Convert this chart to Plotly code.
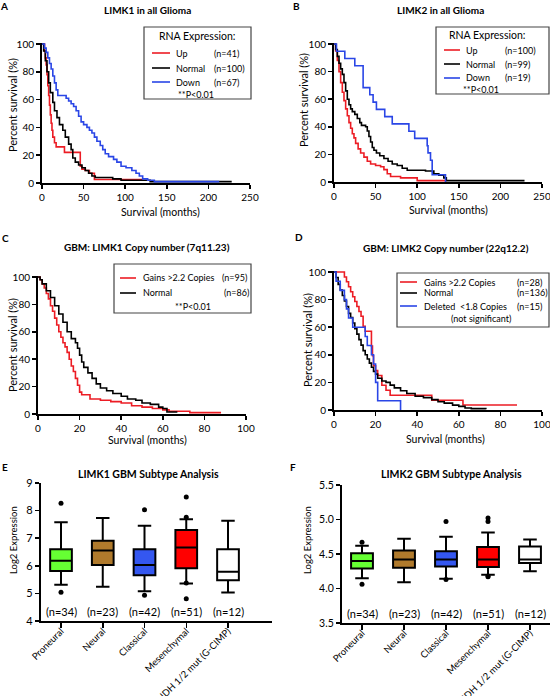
import plotly.graph_objects as go

W, H = 550, 696
FONT = "Lato"
RED = "#ec1c24"
BLUE = "#2a46e6"
BLACK = "#000000"

# ---------------- Panel A: LIMK1 in all Glioma ----------------
a_up_t = [0, 3, 4, 5, 6, 7, 8, 9, 10, 11, 12, 13, 15, 17, 27, 46, 48, 52, 57, 63, 120]
a_up_s = [100, 95, 90, 85, 78, 70, 63, 56, 49, 43, 38, 33, 29, 26, 22, 12, 10, 9, 7, 2.5, 1.5]
a_norm_t = [0, 2, 4, 6, 8, 10, 13, 15, 18, 21, 25, 28, 32, 35, 37, 40, 44, 48, 52, 56, 60, 64, 85, 95, 130, 228]
a_norm_s = [100, 95, 88, 80, 72, 65, 58, 52, 47, 42, 38, 33, 28, 24, 18, 15, 13, 11, 9, 7, 5, 4, 3, 2, 1, 1]
a_down_t = [0, 3, 5, 7, 9, 11, 13, 15, 17, 19, 29, 32, 35, 38, 41, 44, 47, 50, 54, 57, 60, 63, 66, 70, 73, 76, 80,
            86, 90, 95, 101, 108, 113, 117, 121, 127, 135, 213]
a_down_s = [100, 97, 94, 90, 86, 82, 77, 72, 67, 63, 61, 59, 57, 55, 52, 48, 44, 42, 40, 38, 36, 33, 30, 27, 24, 21,
            19, 17, 15, 12, 11, 9, 7, 5, 3, 2, 1, 1]

# ---------------- Panel B: LIMK2 in all Glioma ----------------
b_up_t = [0, 2, 4, 6, 8, 10, 12, 14, 16, 18, 20, 22, 24, 26, 29, 32, 36, 40, 44, 50, 56, 60, 64, 68, 80, 100, 135]
b_up_s = [100, 95, 88, 80, 72, 65, 59, 53, 48, 43, 39, 35, 32, 28, 24, 21, 18, 15, 13, 12, 11, 9, 6, 4, 3, 1, 1]
b_norm_t = [0, 2, 4, 6, 8, 10, 12, 14, 16, 18, 20, 22, 25, 28, 31, 33, 38, 40, 42, 44, 46, 48, 51, 55, 60, 65, 70, 76,
            82, 88, 110, 120, 126, 132, 135, 229]
b_norm_s = [100, 96, 91, 86, 82, 78, 72, 66, 60, 56, 53, 51, 49, 46, 43, 41, 40, 37, 33, 29, 25, 23, 21, 19, 17, 15, 13,
            12, 10, 8.5, 8, 6, 5, 3, 1, 1]
b_down_t = [0, 3, 13, 25, 35, 43, 47, 51, 61, 70, 90, 97, 112, 113, 116, 118, 134]
b_down_s = [100, 94.7, 89.5, 84.2, 68.4, 63.2, 57.9, 52.6, 47.4, 42.1, 36.8, 31.6, 26.3, 21.1, 15.8, 5.3, 0]

# ---------------- Panel C: GBM LIMK1 copy number ----------------
c_gain_t = [0, 1, 2, 3, 4, 5, 6, 7, 8, 9, 10, 11, 12, 13, 14, 15, 16, 17, 18, 19, 20, 21, 25, 30, 35, 40, 45, 50,
            55, 60, 63, 73, 88]
c_gain_s = [100, 98, 95, 92, 88, 84, 79, 75, 70, 65, 60, 56, 52, 49, 45, 40, 35, 31, 26, 21, 16, 14, 11, 10, 9, 8, 6,
            5, 4, 3, 2, 1, 1]
c_norm_t = [0, 1, 2, 4, 6, 8, 10, 12, 14, 16, 18, 19, 20, 21, 22, 24, 26, 28, 30, 33, 36, 40, 43, 47, 50, 54, 58, 60,
            62, 67]
c_norm_s = [100, 98, 95, 90, 85, 79, 73, 67, 60, 55, 52, 48, 43, 38, 34, 30, 26, 22, 19, 17, 15, 13, 11, 10, 8, 7, 5,
            4, 1.5, 1.5]

# ---------------- Panel D: GBM LIMK2 copy number ----------------
d_gain_t = [0, 5, 6, 7, 8, 9, 10, 11, 12, 13, 14, 15, 18, 18.5, 19, 20, 21, 23, 25, 27, 47, 62, 88]
d_gain_s = [100, 96.4, 92.9, 89.3, 85.7, 82.1, 78.6, 75, 71.4, 67.9, 60.7, 57.1, 46.4, 39.3, 32.1, 28.6, 25, 17.9,
            14.3, 10.7, 7.1, 3.6, 3.6]
d_norm_t = [0, 1, 2, 3, 4, 5, 6, 7, 8, 9, 10, 11, 12, 13, 14, 15, 16, 17, 18, 19, 20, 21, 23, 25, 27, 29, 32, 35, 39,
            43, 47, 50, 53, 57, 60, 63, 66, 73]
d_norm_s = [100, 96, 91, 87, 83, 79, 75, 70, 67, 63, 59, 55, 51, 47, 43, 40, 37, 34, 31, 28, 26, 23, 21, 20, 18, 16,
            14, 12, 10, 9, 7.5, 6, 5, 3.5, 2.6, 1.5, 1, 0.5]
d_del_t = [0, 1, 3, 5, 6, 7, 9, 15, 16, 18, 19, 20, 21, 32]
d_del_s = [100, 93.3, 86.7, 80, 73.3, 66.7, 60, 53.3, 46.7, 40, 33.3, 20, 6.7, 0]

# ---------------- Panels E/F: GBM subtype box plots ----------------
subtypes = ["Proneural", "Neural", "Classical", "Mesenchymal", "IDH 1/2 mut (G-CIMP)"]
subtype_n = [34, 23, 42, 51, 12]
box_colors = ["#66ff33", "#b07a2c", "#3457f0", "#ff0000", "#ffffff"]

e_lo = [5.31, 5.24, 5.08, 5.36, 5.03]
e_q1 = [5.81, 6.03, 5.66, 5.91, 5.48]
e_med = [6.18, 6.55, 6.03, 6.66, 5.78]
e_q3 = [6.60, 6.91, 6.60, 7.30, 6.60]
e_hi = [7.58, 7.73, 7.45, 7.69, 7.63]
e_out = [[8.27, 5.04], [], [8.03, 4.93], [8.49, 7.76, 5.38, 4.81], []]

f_lo = [4.15, 4.09, 4.14, 4.20, 4.25]
f_q1 = [4.29, 4.30, 4.32, 4.31, 4.37]
f_med = [4.40, 4.42, 4.42, 4.42, 4.42]
f_q3 = [4.51, 4.55, 4.54, 4.60, 4.61]
f_hi = [4.62, 4.72, 4.75, 4.81, 4.71]
f_out = [[4.67, 4.06], [], [4.97, 4.13], [5.02, 4.97, 4.17, 4.18], []]

km_xticks_ab = [0, 50, 100, 150, 200, 250]
km_xticks_cd = [0, 20, 40, 60, 80, 100]
km_yticks = [0, 20, 40, 60, 80, 100]
e_yticks = [4, 5, 6, 7, 8, 9]
f_yticks = [3.5, 4.0, 4.5, 5.0, 5.5]


# ---------------- helpers ----------------
def clamp(v):
    return min(1.0, max(0.0, v))


def xdom(p0, p1, v0, v1, r0, r1):
    k = (p1 - p0) / (v1 - v0)
    return [clamp((p0 + (r0 - v0) * k) / W), clamp((p0 + (r1 - v0) * k) / W)]


def ydom(p0, p1, v0, v1, r0, r1):
    b0, b1 = H - p0, H - p1
    k = (b1 - b0) / (v1 - v0)
    return [clamp((b0 + (r0 - v0) * k) / H), clamp((b0 + (r1 - v0) * k) / H)]


def axis(domain, rng, tickvals, anchor, size=10, ticktext=None, angle=None, fmt=None, ticklen=4, standoff=None):
    d = dict(domain=domain, range=rng, tickvals=tickvals, anchor=anchor, automargin=False,
             ticklabeloverflow="allow",
             showline=True, linecolor="black", linewidth=2, ticks="outside", ticklen=ticklen,
             tickwidth=1.5, tickcolor="black", showgrid=False, zeroline=False,
             tickfont=dict(family=FONT, size=size, color="black"), fixedrange=True)
    if ticktext is not None:
        d["ticktext"] = ticktext
    if angle is not None:
        d["tickangle"] = angle
    if fmt is not None:
        d["tickformat"] = fmt
    if standoff is not None:
        d["ticklabelstandoff"] = standoff
    return d


fig = go.Figure()


def km(t, s, color, n):
    fig.add_trace(go.Scatter(x=t, y=s, mode="lines", line=dict(shape="hv", color=color, width=1.6),
                             xaxis="x" + n, yaxis="y" + n, showlegend=False, hoverinfo="skip"))


km(a_up_t, a_up_s, RED, "")
km(a_norm_t, a_norm_s, BLACK, "")
km(a_down_t, a_down_s, BLUE, "")
km(b_up_t, b_up_s, RED, "2")
km(b_norm_t, b_norm_s, BLACK, "2")
km(b_down_t, b_down_s, BLUE, "2")
km(c_gain_t, c_gain_s, RED, "3")
km(c_norm_t, c_norm_s, BLACK, "3")
km(d_gain_t, d_gain_s, RED, "4")
km(d_norm_t, d_norm_s, BLACK, "4")
km(d_del_t, d_del_s, BLUE, "4")


def boxes(lo, q1, med, q3, hi, outs, n):
    for i in range(len(subtypes)):
        fig.add_trace(go.Box(x=[i], lowerfence=[lo[i]], q1=[q1[i]], median=[med[i]], q3=[q3[i]],
                             upperfence=[hi[i]], fillcolor=box_colors[i],
                             line=dict(color="black", width=2), width=0.52, whiskerwidth=0.62,
                             xaxis="x" + n, yaxis="y" + n, showlegend=False, hoverinfo="skip"))
        if outs[i]:
            fig.add_trace(go.Scatter(x=[i] * len(outs[i]), y=outs[i], mode="markers",
                                     marker=dict(color="black", size=5), xaxis="x" + n, yaxis="y" + n,
                                     showlegend=False, hoverinfo="skip"))


boxes(e_lo, e_q1, e_med, e_q3, e_hi, e_out, "5")
boxes(f_lo, f_q1, f_med, f_q3, f_hi, f_out, "6")

layout = dict(
    width=W, height=H, margin=dict(l=0, r=0, t=0, b=0, pad=0), autosize=False,
    paper_bgcolor="white", plot_bgcolor="white", showlegend=False,
    font=dict(family=FONT, color="black"),
    xaxis=axis(xdom(42, 250, 0, 250, 0, 250), [0, 250], km_xticks_ab, "y"),
    yaxis=axis(ydom(183, 44, 0, 100, 0, 101), [0, 101], km_yticks, "x"),
    xaxis2=axis(xdom(334, 542, 0, 250, 0, 250), [0, 250], km_xticks_ab, "y2"),
    yaxis2=axis(ydom(182, 44, 0, 100, 0, 101), [0, 101], km_yticks, "x2"),
    xaxis3=axis(xdom(38, 246, 0, 100, 0, 100), [0, 100], km_xticks_cd, "y3"),
    yaxis3=axis(ydom(414, 277, 0, 100, 0, 101), [0, 101], km_yticks, "x3"),
    xaxis4=axis(xdom(334, 542, 0, 100, 0, 100), [0, 100], km_xticks_cd, "y4"),
    yaxis4=axis(ydom(410, 272, 0, 100, 0, 101), [0, 101], km_yticks, "x4"),
    xaxis5=axis(xdom(61, 228, 0, 4, -0.48, 5.05), [-0.48, 5.05], list(range(5)), "y5",
                size=9.5, ticktext=subtypes, angle=-45, ticklen=5, standoff=-6),
    yaxis5=axis(ydom(621, 483, 4, 9, 4, 9), [4, 9], e_yticks, "x5", size=11),
    xaxis6=axis(xdom(362, 530, 0, 4, -0.48, 4.47), [-0.48, 4.47], list(range(5)), "y6",
                size=9.5, ticktext=subtypes, angle=-45, ticklen=5, standoff=-6),
    yaxis6=axis(ydom(623, 485, 3.5, 5.5, 3.5, 5.5), [3.5, 5.5], f_yticks, "x6", size=10.5, fmt=".1f"),
)

ann = []
shapes = []


def txt(x, y, s, size, bold=False, xanchor="center", angle=0, color="black"):
    if bold:
        s = "<b>" + s + "</b>"
    ann.append(dict(x=x / W, y=1 - y / H, xref="paper", yref="paper", text=s, showarrow=False,
                    xanchor=xanchor, yanchor="middle", textangle=angle,
                    font=dict(family=FONT, size=size, color=color)))


def rect(x0, y0, x1, y1):
    shapes.append(dict(type="rect", xref="paper", yref="paper", x0=x0 / W, x1=x1 / W,
                       y0=1 - y0 / H, y1=1 - y1 / H, line=dict(color="#444444", width=1.2)))


def seg(x0, x1, y, color):
    shapes.append(dict(type="line", xref="paper", yref="paper", x0=x0 / W, x1=x1 / W,
                       y0=1 - y / H, y1=1 - y / H, line=dict(color=color, width=1.6)))


# panel letters
for lab, x, y in [("A", 4, 6), ("B", 296, 6), ("C", 5, 238), ("D", 299, 237), ("E", 5, 467), ("F", 293, 467)]:
    txt(x, y, lab, 10, bold=True)

# titles
txt(147, 10, "LIMK1 in all Glioma", 10, bold=True)
txt(440, 10, "LIMK2 in all Glioma", 10, bold=True)
txt(147, 247, "GBM: LIMK1 Copy number (7q11.23)", 10, bold=True)
txt(446, 248, "GBM: LIMK2 Copy number (22q12.2)", 10, bold=True)
txt(148, 474, "LIMK1 GBM Subtype Analysis", 10.5, bold=True)
txt(451, 474, "LIMK2 GBM Subtype Analysis", 10.5, bold=True)

# axis titles
txt(160, 212, "Survival (months)", 10.5)
txt(448, 210, "Survival (months)", 10.5)
txt(147, 440, "Survival (months)", 10.5)
txt(445, 439, "Survival (months)", 10.5)
txt(12, 105, "Percent survival (%)", 11, angle=-90)
txt(303, 100, "Percent survival (%)", 11, angle=-90)
txt(12, 345, "Percent survival (%)", 11, angle=-90)
txt(307, 340, "Percent survival (%)", 11, angle=-90)
txt(13, 540, "Log2 Expression", 9.5, angle=-90)
txt(307, 540, "Log2 Expression", 9.5, angle=-90)

# legend A
rect(144, 27, 251, 99)
txt(197, 36, "RNA Expression:", 10.5)
for (lab, n, col, y) in [("Up", "(n=41)", RED, 53), ("Normal", "(n=100)", BLACK, 68), ("Down", "(n=67)", BLUE, 82)]:
    seg(152, 170, y, col)
    txt(174, y, lab, 9, xanchor="left")
    txt(212, y, n, 9, xanchor="left")
txt(196, 94, "**P<0.01", 9)

# legend B
rect(436, 27, 549, 94)
txt(487, 35, "RNA Expression:", 10.5)
for (lab, n, col, y) in [("Up", "(n=100)", RED, 50), ("Normal", "(n=99)", BLACK, 64), ("Down", "(n=19)", BLUE, 78)]:
    seg(444, 460, y, col)
    txt(464, y, lab, 9, xanchor="left")
    txt(503, y, n, 9, xanchor="left")
txt(481, 89, "**P<0.01", 9)

# legend C
rect(114, 264, 251, 313)
for (lab, n, col, y, nx) in [("Gains >2.2 Copies", "(n=95)", RED, 278, 220), ("Normal", "(n=86)", BLACK, 293, 222)]:
    seg(120, 136, y, col)
    txt(141, y, lab, 9, xanchor="left")
    txt(nx, y, n, 9, xanchor="left")
txt(193, 306, "**P<0.01", 9)

# legend D
rect(397, 273, 549, 327)
for (lab, n, col, y) in [("Gains >2.2 Copies", "(n=28)", RED, 282), ("Normal", "(n=136)", BLACK, 293),
                         ("Deleted  <1.8 Copies", "(n=15)", BLUE, 306)]:
    seg(400, 417, y, col)
    txt(422, y, lab, 9, xanchor="left")
    txt(515, y, n, 9, xanchor="left")
txt(481, 319, "(not significant)", 9)

# n labels under boxes
for i, n in enumerate(subtype_n):
    ann.append(dict(x=i, y=4.33, xref="x5", yref="y5", text="(n=%d)" % n, showarrow=False,
                    font=dict(family=FONT, size=11, color="black")))
    ann.append(dict(x=i, y=3.645, xref="x6", yref="y6", text="(n=%d)" % n, showarrow=False,
                    font=dict(family=FONT, size=11, color="black")))

layout["annotations"] = ann
layout["shapes"] = shapes
fig.update_layout(**layout)
fig.write_html("out.html", config={"staticPlot": True},
               post_script="document.body.style.margin='0';document.body.style.padding='0';"
                           "document.body.style.overflow='hidden';"
                           "document.documentElement.style.overflow='hidden';")
